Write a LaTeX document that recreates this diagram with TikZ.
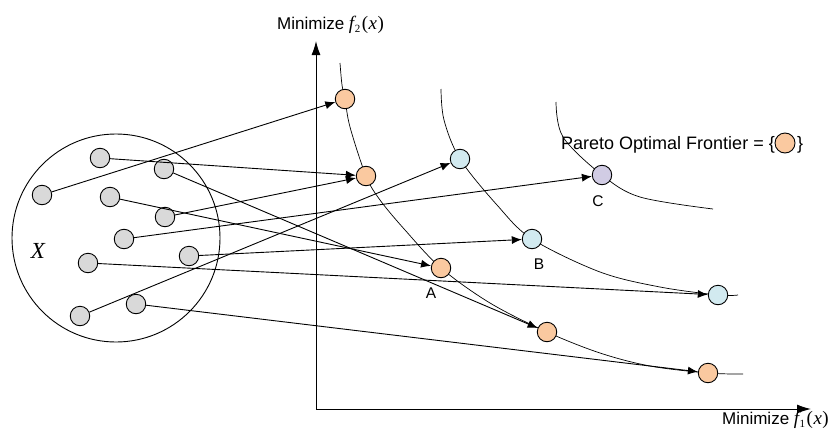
\documentclass[tikz,border=0pt]{standalone}
\usepackage{fontspec}
\setmainfont{Liberation Sans}
\newfontfamily\tnr{Liberation Serif}
\usetikzlibrary{arrows.meta}
\definecolor{ptgray}{RGB}{217,217,217}
\definecolor{ptorange}{RGB}{250,201,160}
\definecolor{ptblue}{RGB}{210,234,240}
\definecolor{ptpurple}{RGB}{209,204,228}
\newcommand\fxlabel[1]{{\tnr\fontsize{19}{19}\selectfont\itshape f}\kern0.5pt\raisebox{-0.35ex}{\tnr\fontsize{11}{11}\selectfont #1}\kern1.5pt{\tnr\fontsize{19}{19}\selectfont(\kern0.5pt\itshape x\/\upshape\kern0.5pt)}}
\begin{document}
\begin{tikzpicture}[x=1pt,y=-1pt,
  pt/.style={circle,draw=black,line width=0.9pt,minimum size=19.5pt,inner sep=0pt},
  src/.style={pt,fill=ptgray},
  opt/.style={pt,fill=ptorange},
  mid/.style={pt,fill=ptblue},
  far/.style={pt,fill=ptpurple},
  map/.style={line width=0.9pt,-{Latex[length=10pt,width=8pt]}},
  front/.style={line width=0.7pt},
  axis/.style={line width=1pt,-{Latex[length=14pt,width=9pt]}},
  lab/.style={font=\fontsize{15.5}{15.5}\selectfont},
  axlab/.style={inner sep=0pt,font=\fontsize{17}{17}\selectfont}]
\useasboundingbox (0,0) rectangle (832,434);

% centres
\coordinate (co1) at (345,99);
\coordinate (co2) at (366,176);
\coordinate (cb1) at (460,159);
\coordinate (cc) at (602,175);
\coordinate (cb2) at (532,239);
\coordinate (ca) at (441,268);
\coordinate (co4) at (547,332);
\coordinate (cb3) at (718,295);
\coordinate (co5) at (708,373);

% frontiers
\draw[front] plot[smooth,tension=0.55] coordinates {(340,63) (342,85) (co1) (350,127) (co2) (380,200) (405,230) (ca) (490,303) (co4) (600,353) (650,366) (co5) (743,374)};
\draw[front] plot[smooth,tension=0.55] coordinates {(441,89) (444,120) (cb1) (497,205) (cb2) (600,272) (660,287) (cb3) (738,295)};
\draw[front] plot[smooth,tension=0.55] coordinates {(556,102) (563,137) (cc) (640,197) (713,209)};

% axes
\coordinate (org) at (316,409);
\coordinate (ytop) at (316,41);
\coordinate (xend) at (811,409);
\draw[axis] (org) -- (ytop);
\draw[axis] (org) -- (xend);
\node[axlab,anchor=base west] (ylab) at (277,29) {Minimize \fxlabel{2}};
\node[axlab,anchor=base east] (xlab) at (829,424) {Minimize \fxlabel{1}};

% decision space
\node[circle,draw=black,line width=0.9pt,minimum size=208pt,inner sep=0pt] (space) at (116,238) {};
\node[inner sep=0pt,font=\tnr\fontsize{23}{23}\selectfont\itshape] (xname) at (38,251) {X};
\node[src] (s1) at (100,158) {};
\node[src] (s2) at (164,169) {};
\node[src] (s3) at (42,195) {};
\node[src] (s4) at (110,197) {};
\node[src] (s5) at (165,217) {};
\node[src] (s6) at (124,239) {};
\node[src] (s7) at (189,256) {};
\node[src] (s8) at (88,263) {};
\node[src] (s9) at (136,304) {};
\node[src] (s10) at (80,316) {};

% objective space points
\node[opt] (o1) at (co1) {};
\node[opt] (o2) at (co2) {};
\node[mid] (b1) at (cb1) {};
\node[far] (c) at (cc) {};
\node[mid] (b2) at (cb2) {};
\node[opt] (a) at (ca) {};
\node[opt] (o4) at (co4) {};
\node[mid] (b3) at (cb3) {};
\node[opt] (o5) at (co5) {};

\node[lab] (la) at (431,293) {A};
\node[lab] (lb) at (539,264) {B};
\node[lab] (lc) at (598,201) {C};

% mappings
\draw[map] (s3) -- (o1);
\draw[map] (s1) -- (o2);
\draw[map] (s5) -- (o2);
\draw[map] (s10) -- (b1);
\draw[map] (s6) -- (c);
\draw[map] (s7) -- (b2);
\draw[map] (s4) -- (a);
\draw[map] (s2) -- (o4);
\draw[map] (s8) -- (b3);
\draw[map] (s9) -- (o5);

% legend
\node[anchor=base west,inner sep=0pt,font=\fontsize{18}{18}\selectfont] (leg) at (561,149) {Pareto Optimal Frontier = \{};
\node[opt,minimum size=20pt] (legc) at (785,143) {};
\node[anchor=base west,inner sep=0pt,font=\fontsize{18}{18}\selectfont] (legr) at (797,149) {\}};
\end{tikzpicture}
\end{document}
